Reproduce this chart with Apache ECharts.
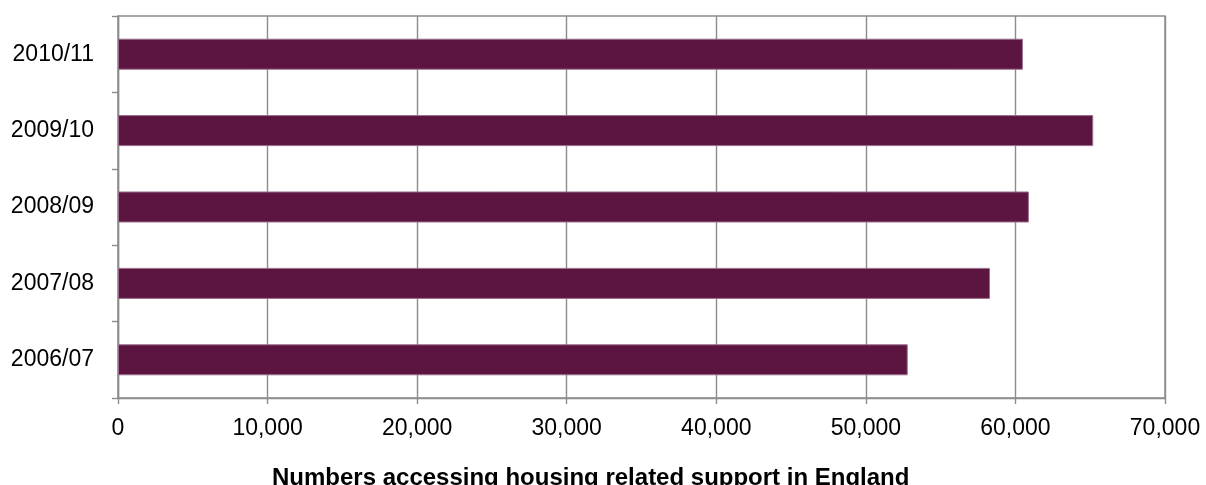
<!DOCTYPE html>
<html>
<head>
<meta charset="utf-8">
<title>Numbers accessing housing related support in England</title>
<script src="https://cdn.jsdelivr.net/npm/echarts@6/dist/echarts.min.js"></script>
<style>
  html, body { margin: 0; padding: 0; background: #ffffff; }
  #chart { width: 1206px; height: 485px; }
</style>
</head>
<body>
<div id="chart"></div>
<script>
// Financial years, listed bottom to top on the category axis
const years = ['2006/07', '2007/08', '2008/09', '2009/10', '2010/11'];
// People accessing housing related support in each year
const accessing = [52800, 58300, 60900, 65200, 60500];
// Value axis range and step
const axisMin = 0;
const axisMax = 70000;
const axisStep = 10000;

const chart = echarts.init(document.getElementById('chart'), null, { renderer: 'canvas' });

const axisGrey = '#8c8c8c';
const lineW = 1.4;
const font = 'Liberation Sans, Arial, sans-serif';

chart.setOption({
  animation: false,
  backgroundColor: '#ffffff',
  title: {
    text: 'Numbers accessing housing related support in England',
    left: 267,
    top: 461,
    textStyle: { fontFamily: font, fontSize: 24, fontWeight: 'bold', color: '#000000' }
  },
  grid: {
    left: 118, right: 41, top: 16, bottom: 87,
    show: true, borderColor: axisGrey, borderWidth: lineW, backgroundColor: 'transparent'
  },
  xAxis: {
    type: 'value',
    min: axisMin, max: axisMax, interval: axisStep,
    axisLine: { show: true, lineStyle: { color: axisGrey, width: lineW } },
    axisTick: { show: true, length: 6, lineStyle: { color: axisGrey, width: lineW } },
    splitLine: { show: true, lineStyle: { color: axisGrey, width: lineW } },
    axisLabel: {
      margin: 19,
      fontFamily: font, fontSize: 23, color: '#000000',
      formatter: v => v.toLocaleString('en-US')
    }
  },
  yAxis: {
    type: 'category',
    data: years,
    axisLine: { show: true, lineStyle: { color: axisGrey, width: lineW } },
    axisTick: { show: true, length: 6, alignWithLabel: false, lineStyle: { color: axisGrey, width: lineW } },
    splitLine: { show: false },
    axisLabel: { margin: 24, fontFamily: font, fontSize: 23, color: '#000000' }
  },
  series: [{
    type: 'bar',
    data: accessing,
    barWidth: '40.6%',
    itemStyle: { color: '#5c1541', borderColor: '#9a6e8b', borderWidth: 1 }
  }]
});
</script>
</body>
</html>
